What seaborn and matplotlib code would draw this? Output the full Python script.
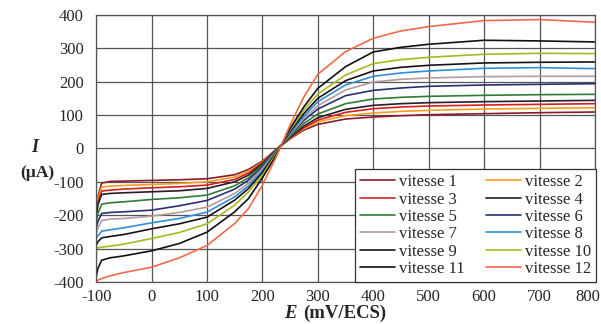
import numpy as np
import pandas as pd
import seaborn as sns
import matplotlib.pyplot as plt
import matplotlib.transforms as mtransforms

# potentiel E (mV/ECS)
E = [-100, -97, -90, -75, -50, 0, 50, 100, 150, 175, 200, 225, 250, 275,
     300, 350, 400, 450, 500, 600, 700, 800]

# courant I (uA) pour chaque vitesse
v1 = [-185, -145, -104, -99, -98, -96, -94, -91, -79, -63, -38, -3, 29, 55,
      72, 88, 94, 98, 101, 104, 107, 109]
v2 = [-195, -150, -116, -113, -111, -108, -105, -100, -86, -69, -41, -3, 30, 59,
      80, 98, 106, 111, 114, 118, 120, 122]
v3 = [-200, -160, -128, -125, -122, -118, -115, -110, -93, -74, -43, -3, 31, 62,
      85, 108, 119, 124, 127, 130, 132, 134]
v4 = [-210, -170, -138, -135, -133, -130, -127, -120, -100, -80, -46, -4, 33, 67,
      92, 117, 129, 134, 137, 140, 142, 144]
v5 = [-225, -195, -167, -163, -160, -153, -148, -140, -112, -88, -50, -5, 36, 75,
      103, 134, 148, 153, 156, 159, 161, 162]
v6 = [-240, -220, -195, -192, -190, -185, -172, -156, -122, -95, -55, -6, 40, 84,
      118, 158, 174, 181, 186, 190, 192, 194]
v7 = [-255, -240, -216, -212, -210, -203, -192, -176, -135, -104, -60, -8, 42, 90,
      128, 175, 199, 207, 211, 215, 216, 216]
v8 = [-270, -262, -248, -244, -238, -223, -210, -191, -145, -112, -66, -10, 45, 97,
      140, 190, 216, 226, 232, 240, 242, 239]
v9 = [-290, -280, -268, -264, -258, -241, -226, -206, -155, -120, -72, -12, 50, 105,
      150, 203, 232, 243, 249, 256, 258, 259]
v10 = [-300, -298, -296, -293, -287, -270, -252, -226, -170, -130, -80, -15, 55, 115,
       163, 220, 254, 266, 273, 282, 285, 284]
v11 = [-385, -360, -335, -328, -322, -307, -285, -251, -190, -150, -88, -20, 60, 125,
       180, 245, 289, 303, 312, 324, 322, 319]
v12 = [-398, -395, -390, -382, -372, -356, -328, -291, -225, -180, -110, -25, 70, 155,
       222, 290, 330, 352, 365, 383, 386, 378]

series = [v1, v2, v3, v4, v5, v6, v7, v8, v9, v10, v11, v12]
labels = ["vitesse %d" % (i + 1) for i in range(12)]
colors = ["#8b1a2b", "#f0a020", "#d81e1e", "#2a1a2a", "#2e7d32", "#283070",
          "#b39c9c", "#2f8fd8", "#1a1018", "#a8b81e", "#111111", "#f06a4a"]

df = pd.concat([pd.DataFrame({"E": E, "I": s, "vitesse": lab})
                for s, lab in zip(series, labels)], ignore_index=True)

sns.set_style("white")
plt.rcParams["font.family"] = ["Liberation Serif", "DejaVu Serif"]
plt.rcParams["axes.unicode_minus"] = False

fig = plt.figure(figsize=(6.01, 3.24), dpi=100)
ax = fig.add_axes([0.160, 0.130, 0.830, 0.824])

sns.lineplot(data=df, x="E", y="I", hue="vitesse", palette=colors,
             estimator=None, sort=False, linewidth=1.2, legend=False, ax=ax)

ax.set_xlim(-100, 800)
ax.set_ylim(-400, 400)
ax.set_xticks(np.arange(-100, 801, 100))
ax.set_yticks(np.arange(-400, 401, 100))
ax.grid(True, color="#555555", linewidth=0.9)
ax.set_axisbelow(True)
ax.tick_params(axis="y", length=0, labelsize=12, pad=9)
ax.tick_params(axis="x", length=0, labelsize=12, pad=5)
ax.set_xlabel("")
ax.set_ylabel("")
for sp in ax.spines.values():
    sp.set_color("#555555")
    sp.set_linewidth(0.9)

# le dernier label (800) colle au bord droit
last = ax.get_xticklabels()[-1]
last.set_transform(last.get_transform() +
                   mtransforms.ScaledTranslation(-7 / 100, 0, fig.dpi_scale_trans))

# legende : vitesse 1, 2 sur la premiere ligne
lines = ax.get_lines()[:12]
order = list(range(0, 12, 2)) + list(range(1, 12, 2))
leg = ax.legend([lines[i] for i in order], [labels[i] for i in order],
                ncol=2, loc="lower right", bbox_to_anchor=(1.003, 0.0),
                borderaxespad=0, fontsize=12, frameon=True, fancybox=False,
                handlelength=2.1, handletextpad=0.25, columnspacing=1.3,
                labelspacing=0.08, borderpad=0.3)
leg.get_frame().set_edgecolor("#333333")
leg.get_frame().set_linewidth(0.9)
leg.get_frame().set_alpha(1)

# titres des axes
fig.text(0.058, 0.545, "I", fontsize=13, fontweight="bold", style="italic",
         ha="center", va="center")
fig.text(0.062, 0.466, "(µA)", fontsize=12.5, fontweight="bold",
         ha="center", va="center")
fig.text(0.483, 0.032, "E", fontsize=13.5, fontweight="bold", style="italic",
         ha="center", va="center")
fig.text(0.505, 0.032, "(mV/ECS)", fontsize=13.5, fontweight="bold",
         ha="left", va="center")

plt.savefig("out.png", dpi=100)
